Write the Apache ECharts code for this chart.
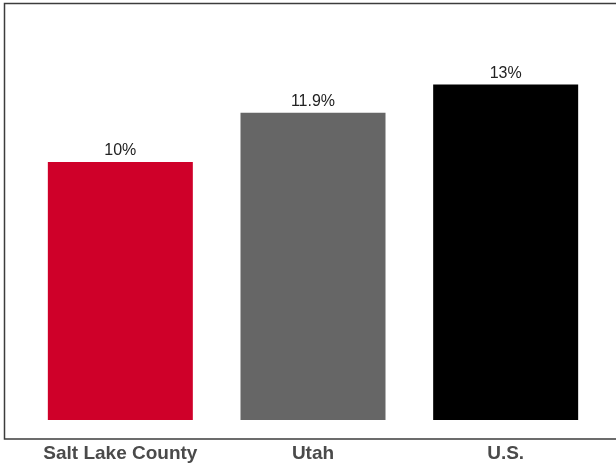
<!DOCTYPE html>
<html>
<head>
<meta charset="utf-8">
<style>html,body{margin:0;padding:0;background:#fff;}#c{width:616px;height:467px;}</style>
<script src="https://cdn.jsdelivr.net/npm/echarts@6/dist/echarts.min.js"></script>
</head>
<body>
<div id="c"></div>
<script>
const categories = ['Salt Lake County', 'Utah', 'U.S.'];
const values = [10, 11.9, 13];
const labels = ['10%', '11.9%', '13%'];
const barColors = ['#cf0029', '#666666', '#000000'];

const chart = echarts.init(document.getElementById('c'), null, {renderer: 'canvas'});
chart.setOption({
  animation: false,
  backgroundColor: '#ffffff',
  graphic: [{
    type: 'rect',
    shape: {x: 4.5, y: 3.5, width: 700, height: 435.5},
    style: {fill: 'none', stroke: '#3c3c3c', lineWidth: 1.5},
    silent: true, z: 0
  }],
  grid: {left: 24, right: 14, top: 7, bottom: 47},
  xAxis: {
    type: 'category',
    data: categories,
    axisLine: {show: false},
    axisTick: {show: false},
    axisLabel: {
      interval: 0,
      margin: 24,
      color: '#4a4a4a',
      fontFamily: 'Liberation Sans',
      fontWeight: 'bold',
      fontSize: 19
    }
  },
  yAxis: {
    type: 'value',
    min: 0, max: 16,
    show: false,
    splitLine: {show: false}
  },
  series: [{
    type: 'bar',
    barWidth: 145,
    data: values.map((v, i) => ({value: v, itemStyle: {color: barColors[i]}})),
    label: {
      show: true,
      position: 'top',
      distance: 3,
      formatter: p => labels[p.dataIndex],
      color: '#222222',
      fontFamily: 'Liberation Sans',
      fontSize: 16
    }
  }]
});
</script>
</body>
</html>
